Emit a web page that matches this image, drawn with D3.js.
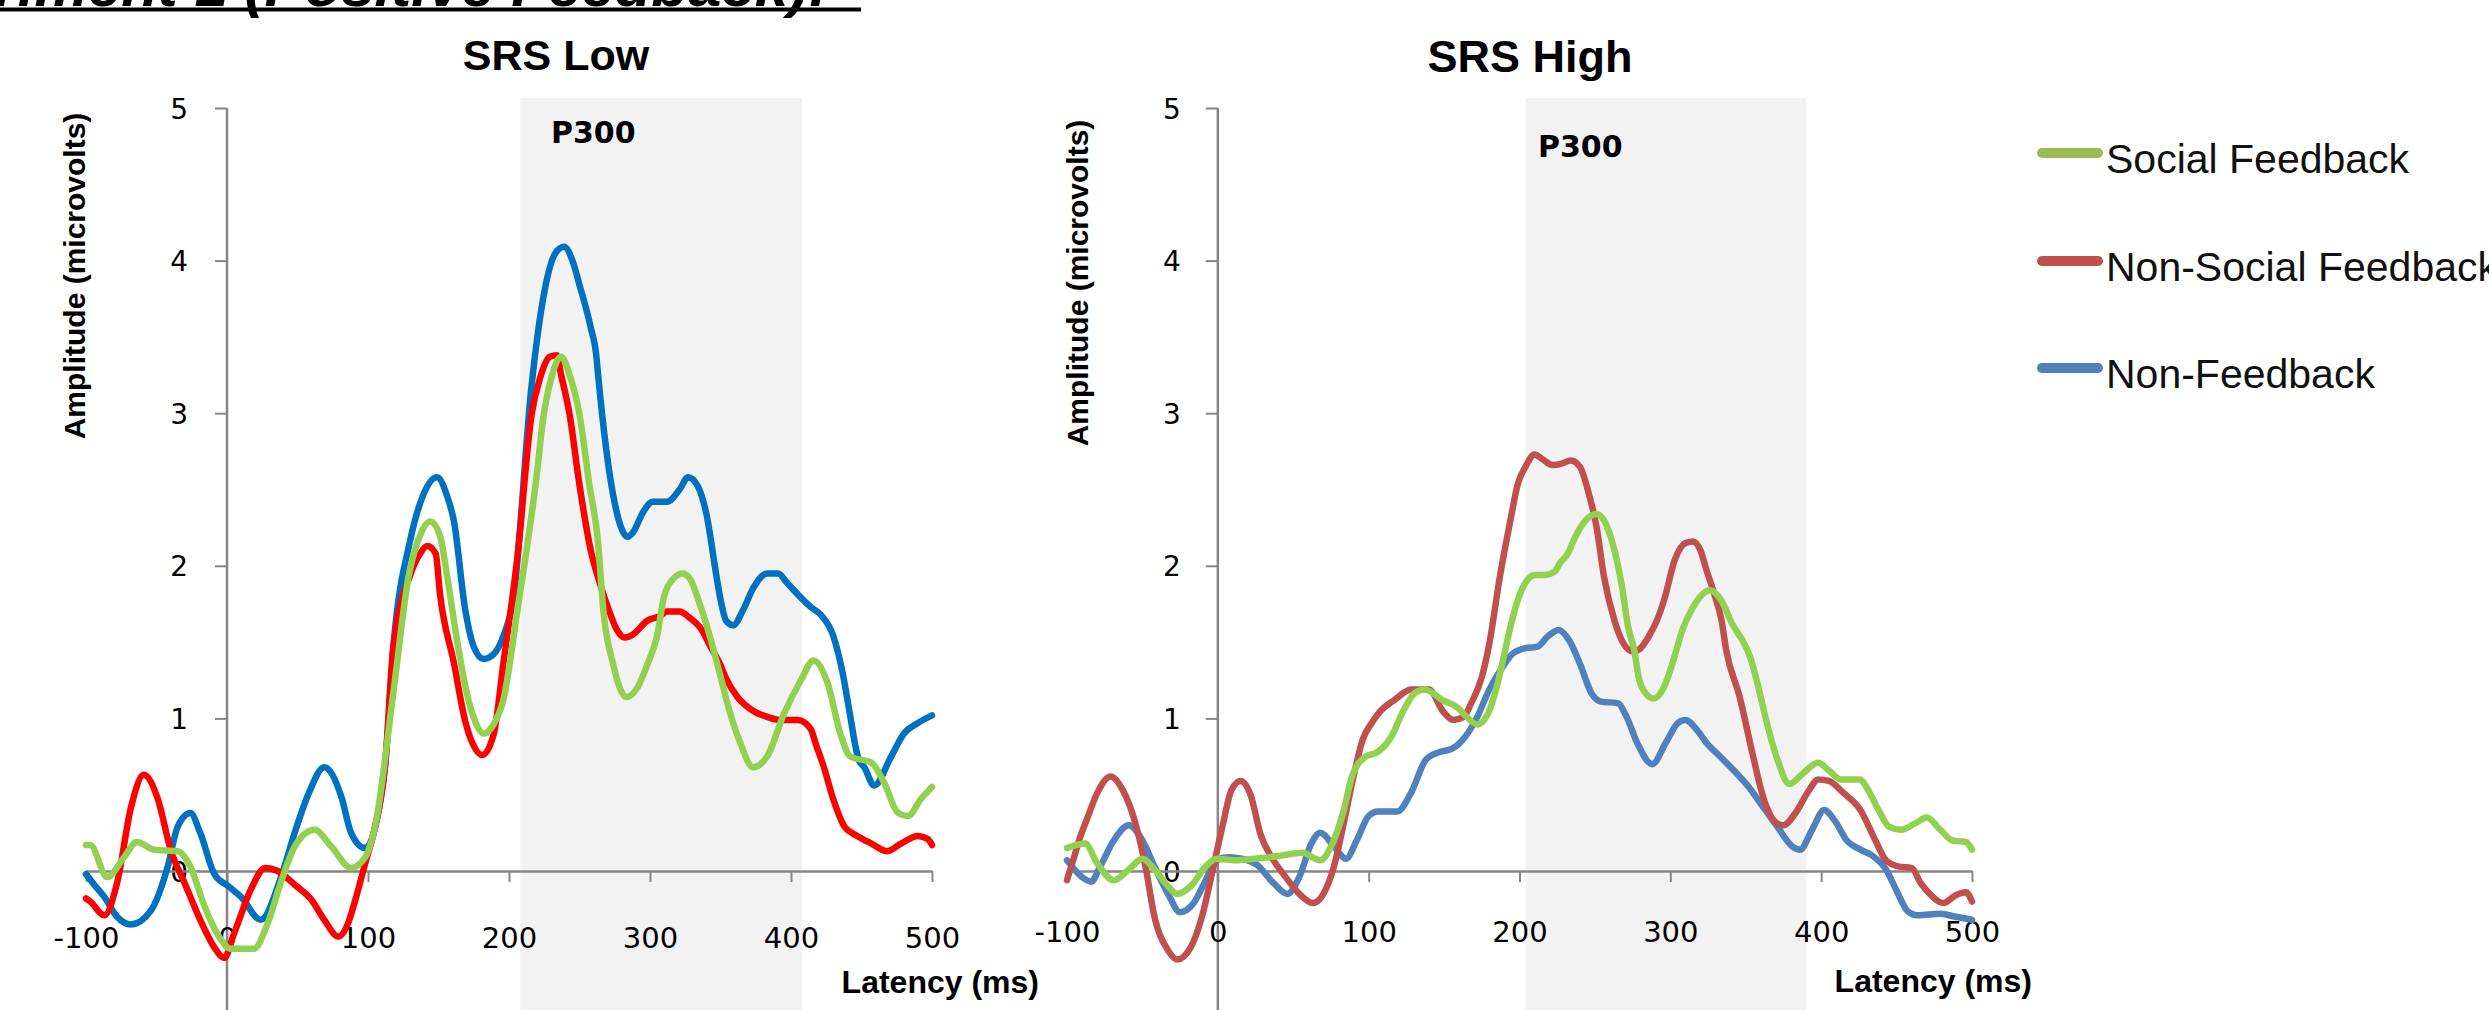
<!DOCTYPE html>
<html>
<head>
<meta charset="utf-8">
<script src="https://cdn.jsdelivr.net/npm/d3@7"></script>
<style>
  html, body { margin: 0; padding: 0; background: #ffffff; }
  svg { display: block; }
</style>
</head>
<body>
<svg id="chart" width="2489" height="1010"></svg>
<script>
// ---------------- DATA ----------------
const headerText = "Experiment 1 (Positive Feedback):";
const panelTitles = ["SRS Low", "SRS High"];
const seriesNames = ["Social Feedback", "Non-Social Feedback", "Non-Feedback"];
const latencyTicks = [-100, 0, 100, 200, 300, 400, 500];
const amplitudeTicks = [0, 1, 2, 3, 4, 5];
const windowLabel = "P300";
const p300WindowLow = [208, 408];
const p300WindowHigh = [204, 390];

// SRS Low  [latency ms, amplitude µV]
const lowSocial = [
  [-100,0.17],[-97,0.17],[-85,-0.04],[-73,0.09],[-64,0.19],[-52,0.14],[-35,0.13],[-26,0.03],[-16,-0.23],[-7,-0.41],[3,-0.51],[19,-0.51],[29,-0.34],[38,-0.08],[48,0.16],[62,0.27],[74,0.16],[88,0.02],[98,0.09],[105,0.29],
  [118,1.17],[129,1.94],[137,2.20],[144,2.29],[151,2.20],[156,1.94],[163,1.52],[170,1.17],[176,0.98],[182,0.90],[189,0.96],[196,1.12],[206,1.71],
  [220,2.62],[224,2.95],[230,3.23],[237,3.37],[243,3.25],[250,2.99],[257,2.53],[263,2.17],[267,1.70],[274,1.35],[279,1.19],[283,1.14],[291,1.20],[298,1.35],[305,1.54],[310,1.80],[317,1.92],[323,1.95],[328,1.92],[336,1.73],[343,1.52],[349,1.31],[357,1.03],[364,0.84],
  [373,0.68],[383,0.75],[395,1.03],[407,1.25],[416,1.38],[426,1.23],[435,0.90],[442,0.75],[457,0.71],[466,0.58],[476,0.38],[483,0.36],[492,0.47],[500,0.55]
];
const lowNonSocial = [
  [-100,-0.18],[-97,-0.20],[-87,-0.29],[-78,-0.08],[-68,0.42],[-59,0.63],[-49,0.47],[-40,0.14],[-30,-0.08],[-19,-0.32],[-9,-0.50],[-2,-0.57],[5,-0.41],[17,-0.12],[27,0.02],[36,0.00],[48,-0.09],[60,-0.19],[69,-0.32],[79,-0.43],[86,-0.34],[91,-0.19],[98,0.05],[105,0.29],[112,0.68],
  [118,1.47],[130,1.94],[137,2.08],[142,2.13],[148,2.08],[151,1.82],[161,1.36],[169,0.98],[175,0.82],[181,0.76],[189,0.89],[196,1.36],[206,2.06],
  [216,2.99],[222,3.23],[229,3.37],[234,3.38],[237,3.25],[243,2.99],[250,2.53],[258,2.10],[265,1.87],[272,1.68],[276,1.59],[282,1.53],[288,1.55],[298,1.64],[307,1.67],[312,1.70],[321,1.70],[328,1.66],[336,1.59],[343,1.47],[350,1.35],[354,1.26],[362,1.14],[373,1.05],[383,1.01],[392,0.99],[405,0.99],[414,0.93],[418,0.82],
  [423,0.69],[430,0.47],[438,0.29],[447,0.23],[457,0.18],[468,0.13],[478,0.18],[490,0.23],[497,0.21],[500,0.17]
];
const lowNonFeedback = [
  [-100,-0.02],[-95,-0.08],[-87,-0.17],[-78,-0.30],[-68,-0.35],[-54,-0.26],[-42,0.03],[-35,0.29],[-26,0.38],[-19,0.25],[-9,-0.02],[1,-0.10],[10,-0.17],[24,-0.32],[39,-0.02],[48,0.25],[58,0.51],[69,0.68],[81,0.49],[88,0.25],[98,0.15],[112,0.68],
  [118,1.47],[130,2.17],[139,2.46],[149,2.58],[156,2.46],[161,2.29],[169,1.71],[175,1.47],[182,1.39],[189,1.42],[196,1.54],[203,1.78],
  [216,3.18],[224,3.74],[233,4.05],[239,4.09],[245,4.00],[250,3.84],[258,3.56],[262,3.37],[263,3.27],[269,2.76],[275,2.41],[280,2.24],[284,2.19],[288,2.22],[295,2.35],[302,2.42],[312,2.42],[321,2.50],[327,2.58],[334,2.52],[340,2.34],[347,1.94],[350,1.78],[354,1.64],[359,1.61],[366,1.71],[373,1.85],[383,1.95],[391,1.95],[397,1.89],[414,1.73],[421,1.68],[430,1.54],[437,1.28],[441,1.07],[448,0.73],
  [452,0.68],[459,0.56],[471,0.75],[480,0.90],[490,0.97],[500,1.02]
];

// SRS High
const highSocial = [
  [-100,0.15],[-88,0.18],[-80,0.05],[-69,-0.06],[-59,0.01],[-50,0.08],[-42,0.01],[-33,-0.10],[-27,-0.15],[-18,-0.10],[-8,0.03],[-1,0.08],[11,0.07],[24,0.08],[41,0.10],[56,0.12],[68,0.07],[75,0.16],[83,0.38],[89,0.62],[98,0.75],[106,0.78],[115,0.88],[123,1.05],[131,1.17],[137,1.19],[149,1.12],[159,1.07],[165,1.01],[172,0.96],[179,1.03],[185,1.21],[189,1.38],[194,1.60],[199,1.78],[204,1.89],[210,1.94],[217,1.94],[223,1.96],[227,2.02],[232,2.08],[237,2.19],[244,2.30],[251,2.34],[257,2.28],[263,2.10],[268,1.86],[272,1.60],[276,1.45],[279,1.27],[284,1.16],[289,1.13],[296,1.21],[302,1.38],[308,1.58],[314,1.71],[320,1.80],[326,1.84],[334,1.77],[341,1.62],[349,1.49],[353,1.40],[358,1.22],[364,0.97],[371,0.73],[379,0.57],[388,0.64],[398,0.71],[405,0.66],[413,0.60],[426,0.60],[430,0.55],[438,0.40],[445,0.29],[453,0.27],[462,0.31],[470,0.35],[479,0.27],[487,0.20],[496,0.19],[500,0.14]
];
const highNonSocial = [
  [-100,-0.06],[-95,0.10],[-92,0.20],[-86,0.36],[-80,0.51],[-71,0.62],[-63,0.53],[-54,0.29],[-48,0.03],[-42,-0.30],[-33,-0.52],[-27,-0.58],[-18,-0.50],[-10,-0.28],[-4,-0.02],[3,0.29],[9,0.53],[15,0.59],[22,0.49],[28,0.25],[37,0.07],[45,-0.04],[54,-0.15],[63,-0.21],[70,-0.15],[77,0.03],[83,0.29],[90,0.62],[96,0.86],[102,0.97],[108,1.05],[117,1.12],[128,1.19],[140,1.19],[149,1.05],[156,0.99],[163,1.01],[168,1.10],[175,1.27],[180,1.49],[187,1.93],[194,2.30],[199,2.54],[204,2.65],[210,2.73],[215,2.70],[222,2.66],[228,2.67],[234,2.69],[240,2.65],[246,2.47],[251,2.26],[256,1.93],[263,1.64],[269,1.49],[275,1.44],[279,1.45],[287,1.56],[291,1.64],[296,1.78],[303,2.04],[310,2.15],[315,2.16],[320,2.10],[324,1.97],[329,1.82],[334,1.64],[337,1.45],[346,1.14],[354,0.79],[362,0.47],[371,0.31],[375,0.30],[383,0.38],[392,0.53],[398,0.60],[405,0.59],[415,0.51],[426,0.40],[436,0.20],[443,0.07],[451,0.03],[460,0.02],[466,-0.08],[472,-0.15],[481,-0.21],[489,-0.16],[496,-0.14],[500,-0.20]
];
const highNonFeedback = [
  [-100,0.07],[-90,-0.04],[-84,-0.07],[-78,0.03],[-69,0.20],[-59,0.30],[-50,0.20],[-42,0.03],[-33,-0.15],[-25,-0.27],[-16,-0.21],[-8,-0.06],[-1,0.07],[7,0.09],[16,0.08],[26,0.04],[37,-0.08],[46,-0.15],[54,-0.04],[62,0.18],[68,0.25],[77,0.16],[85,0.08],[92,0.20],[100,0.36],[106,0.39],[119,0.39],[128,0.51],[138,0.73],[147,0.78],[155,0.80],[164,0.88],[172,1.01],[180,1.19],[189,1.34],[195,1.42],[204,1.46],[212,1.47],[219,1.54],[226,1.58],[233,1.51],[240,1.36],[248,1.16],[254,1.11],[265,1.10],[271,1.01],[278,0.84],[288,0.70],[297,0.84],[305,0.97],[310,0.99],[318,0.92],[324,0.84],[333,0.75],[343,0.65],[352,0.55],[360,0.44],[371,0.29],[381,0.16],[386,0.14],[394,0.27],[402,0.40],[409,0.33],[417,0.20],[426,0.14],[434,0.10],[443,0.01],[451,-0.15],[457,-0.26],[464,-0.29],[479,-0.28],[489,-0.30],[500,-0.32]
];

// ---------------- DRAW ----------------
const svg = d3.select("#chart");
const axisColor = "#868686";
const boldFont = "'Liberation Sans', Arial, sans-serif";
const tickFont = "'DejaVu Sans', 'Liberation Sans', sans-serif";

// header (cut off at top, underlined)
svg.append("text")
  .attr("x", 828).attr("y", 6)
  .attr("text-anchor", "end")
  .attr("font-family", boldFont).attr("font-weight", "bold").attr("font-style", "italic")
  .attr("font-size", 60).attr("fill", "#000")
  .text(headerText);
svg.append("line").attr("x1", 0).attr("x2", 861).attr("y1", 9.5).attr("y2", 9.5)
  .attr("stroke", "#000").attr("stroke-width", 4);

const panels = [
  {
    title: panelTitles[0], titleX: 556, titleY: 70, titleSize: 43,
    xRange: [86, 932], win: p300WindowLow,
    p300X: 551, p300Y: 143,
    yLabelX: 85, yLabelY: 276, yTickGap: 39,
    xLabelBase: 948, latX: 1039, latY: 993,
    series: [
      { data: lowNonFeedback, color: "#0070c0" },
      { data: lowNonSocial, color: "#ff0000" },
      { data: lowSocial, color: "#92d050" }
    ]
  },
  {
    title: panelTitles[1], titleX: 1530, titleY: 72, titleSize: 45,
    xRange: [1067, 1972], win: p300WindowHigh,
    p300X: 1538, p300Y: 157,
    yLabelX: 1088, yLabelY: 283, yTickGap: 37,
    xLabelBase: 942, latX: 2032, latY: 992,
    series: [
      { data: highNonFeedback, color: "#4f81bd" },
      { data: highNonSocial, color: "#c0504d" },
      { data: highSocial, color: "#92d050" }
    ]
  }
];

const y = d3.scaleLinear().domain([0, 5]).range([871, 108]);

panels.forEach(p => {
  const x = d3.scaleLinear().domain([-100, 500]).range(p.xRange);
  const g = svg.append("g");

  // P300 window shading
  g.append("rect")
    .attr("x", x(p.win[0]))
    .attr("y", y(5) - 10)
    .attr("width", x(p.win[1]) - x(p.win[0]))
    .attr("height", 1010 - (y(5) - 10))
    .attr("fill", "#f2f2f2");

  g.append("text")
    .attr("x", p.p300X).attr("y", p.p300Y)
    .attr("font-family", "'DejaVu Sans', sans-serif").attr("font-weight", "bold")
    .attr("font-size", 30).attr("fill", "#000")
    .text(windowLabel);

  // Title
  g.append("text")
    .attr("x", p.titleX).attr("y", p.titleY)
    .attr("text-anchor", "middle")
    .attr("font-family", boldFont).attr("font-weight", "bold")
    .attr("font-size", p.titleSize).attr("fill", "#000")
    .text(p.title);

  // Y axis
  const yAxis = d3.axisLeft(y).tickValues(amplitudeTicks).tickSize(12).tickSizeOuter(0)
    .tickFormat(d3.format("d"));
  const yg = g.append("g").attr("transform", `translate(${x(0)},0)`).call(yAxis);
  yg.select(".domain").remove();
  yg.selectAll(".tick line").attr("stroke", axisColor).attr("stroke-width", 2);
  yg.selectAll(".tick text")
    .attr("x", -p.yTickGap).attr("dy", "0.36em")
    .attr("font-family", tickFont).attr("font-size", 28).attr("fill", "#000");
  g.append("line")
    .attr("x1", x(0)).attr("x2", x(0)).attr("y1", y(5)).attr("y2", 1010)
    .attr("stroke", axisColor).attr("stroke-width", 2.5);

  // X axis at zero
  const xAxis = d3.axisBottom(x).tickValues(latencyTicks).tickSize(11).tickSizeOuter(0)
    .tickFormat(d3.format("d"));
  const xg = g.append("g").attr("transform", `translate(0,${y(0)})`).call(xAxis);
  xg.select(".domain").attr("stroke", axisColor).attr("stroke-width", 2.5);
  xg.selectAll(".tick line").attr("stroke", axisColor).attr("stroke-width", 2);
  xg.selectAll(".tick text")
    .attr("y", p.xLabelBase - y(0)).attr("dy", 0)
    .attr("font-family", tickFont).attr("font-size", 29).attr("fill", "#000")
    .text(d => d < 0 ? "-" + Math.abs(d) : d);

  // Axis titles
  g.append("text")
    .attr("transform", `translate(${p.yLabelX},${p.yLabelY}) rotate(-90)`)
    .attr("text-anchor", "middle")
    .attr("font-family", boldFont).attr("font-weight", "bold")
    .attr("font-size", 30).attr("fill", "#000")
    .text("Amplitude (microvolts)");
  g.append("text")
    .attr("x", p.latX).attr("y", p.latY)
    .attr("text-anchor", "end")
    .attr("font-family", boldFont).attr("font-weight", "bold")
    .attr("font-size", 32).attr("fill", "#000")
    .text("Latency (ms)");

  // Lines
  const line = d3.line().x(d => x(d[0])).y(d => y(d[1])).curve(d3.curveMonotoneX);
  p.series.forEach(s => {
    g.append("path")
      .datum(s.data)
      .attr("d", line)
      .attr("fill", "none")
      .attr("stroke", s.color)
      .attr("stroke-width", 6.5)
      .attr("stroke-linejoin", "round")
      .attr("stroke-linecap", "round");
  });
});

// Legend
const legendColors = ["#9bbb59", "#c0504d", "#4f81bd"];
const legendY = [153, 261, 368];
const lg = svg.append("g");
seriesNames.forEach((name, i) => {
  lg.append("line")
    .attr("x1", 2042).attr("x2", 2098)
    .attr("y1", legendY[i]).attr("y2", legendY[i])
    .attr("stroke", legendColors[i]).attr("stroke-width", 10)
    .attr("stroke-linecap", "round");
  lg.append("text")
    .attr("x", 2106).attr("y", legendY[i] + 20)
    .attr("font-family", "'Liberation Sans', Arial, sans-serif")
    .attr("font-size", 41).attr("fill", "#111")
    .text(name);
});
</script>
</body>
</html>
